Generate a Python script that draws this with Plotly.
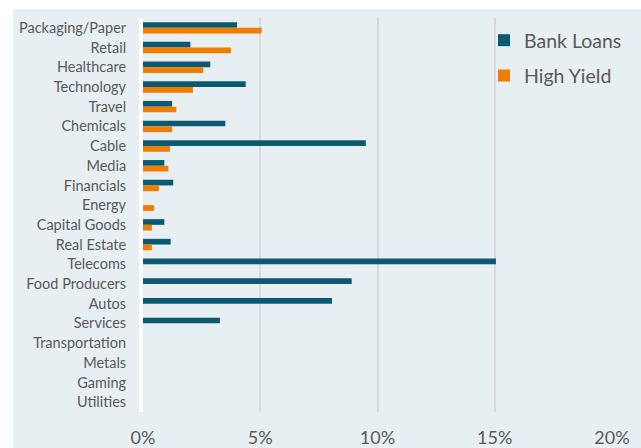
import plotly.graph_objects as go

categories = ["Packaging/Paper", "Retail", "Healthcare", "Technology", "Travel",
              "Chemicals", "Cable", "Media", "Financials", "Energy",
              "Capital Goods", "Real Estate", "Telecoms", "Food Producers", "Autos",
              "Services", "Transportation", "Metals", "Gaming", "Utilities"]
bank_loans = [4.01, 2.02, 2.87, 4.38, 1.24, 3.51, 9.50, 0.91, 1.29, 0.0,
              0.91, 1.18, 15.05, 8.90, 8.06, 3.28, 0.0, 0.0, 0.0, 0.0]
high_yield = [5.06, 3.75, 2.57, 2.13, 1.42, 1.24, 1.15, 1.08, 0.68, 0.47,
              0.38, 0.38, 0.0, 0.0, 0.0, 0.0, 0.0, 0.0, 0.0, 0.0]
x_ticks = [0, 5, 10, 15, 20]
x_tick_labels = ["0%", "5%", "10%", "15%", "20%"]

BG = "#E7EFF2"
TEXT = "#595959"
FONT = "Lato, Open Sans, sans-serif"
W, H = 641, 448
ML, MR, MT, MB = 143, 29, 18, 36

fig = go.Figure()
fig.add_trace(go.Bar(y=categories, x=bank_loans, orientation="h", name="Bank Loans",
                     marker=dict(color="#0C5A72", line=dict(width=0)),
                     legendgroup="a"))
fig.add_trace(go.Bar(y=categories, x=high_yield, orientation="h", name="High Yield",
                     marker=dict(color="#F07D00", line=dict(width=0)),
                     legendgroup="b"))

pw = W - ML - MR
ph = H - MT - MB
# white strips at top and left (outside the light panel)
fig.add_shape(type="rect", xref="paper", yref="paper", layer="above",
              x0=-ML / pw - 0.01, x1=(W - ML) / pw + 0.01,
              y0=1 + (MT - 9) / ph, y1=1 + MT / ph + 0.01,
              fillcolor="white", line=dict(width=0))
fig.add_shape(type="rect", xref="paper", yref="paper", layer="above",
              x0=-ML / pw - 0.01, x1=(13 - ML) / pw,
              y0=-MB / ph - 0.01, y1=1 + MT / ph + 0.01,
              fillcolor="white", line=dict(width=0))

fig.update_layout(
    width=W, height=H,
    margin=dict(l=ML, r=MR, t=MT, b=MB, pad=0, autoexpand=False),
    paper_bgcolor=BG, plot_bgcolor=BG,
    barmode="group", bargap=0.42, bargroupgap=0,
    font=dict(family=FONT, color=TEXT),
    showlegend=True,
    legend=dict(x=(484 - ML) / pw, y=1 - (21 - MT) / ph, xanchor="left", yanchor="top",
                bgcolor="rgba(0,0,0,0)", font=dict(size=19.5, color=TEXT, family=FONT),
                traceorder="grouped", tracegroupgap=7),
    xaxis=dict(range=[0, 20], tickvals=x_ticks, ticktext=x_tick_labels,
               showgrid=True, gridcolor="#D9D9D9", gridwidth=1.5,
               zeroline=False, showline=False, ticks="", automargin=False,
               tickfont=dict(size=18, color=TEXT, family=FONT),
               ticklabelstandoff=13, fixedrange=True),
    yaxis=dict(autorange="reversed", showgrid=False, zeroline=False,
               showline=True, linecolor="white", linewidth=4, ticks="", automargin=False,
               tickfont=dict(size=14.5, color=TEXT, family=FONT),
               ticklabelstandoff=10, fixedrange=True),
)

fig.write_html("out.html")
